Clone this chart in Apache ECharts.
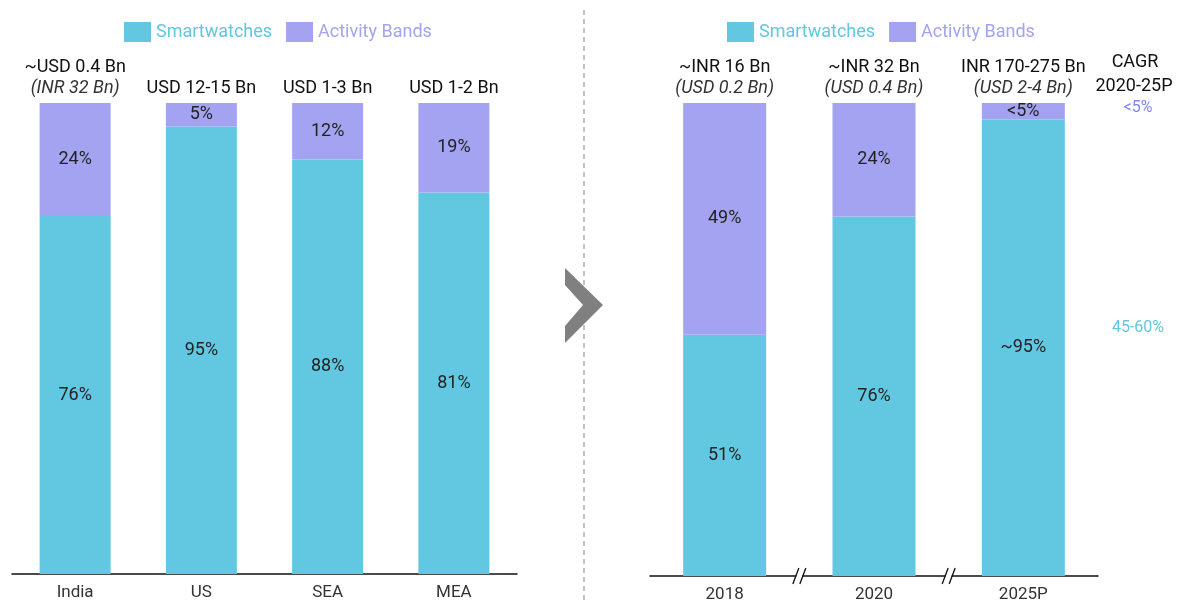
<!DOCTYPE html>
<html>
<head>
<meta charset="utf-8">
<script src="https://cdn.jsdelivr.net/npm/echarts@6/dist/echarts.min.js"></script>
<style>
  html,body{margin:0;padding:0;background:#fff;}
  #c{width:1180px;height:603px;}
</style>
</head>
<body>
<div id="c"></div>
<script>
  // ---------- 数据 ----------
  var regions      = ["India", "US", "SEA", "MEA"];
  var regionWatch  = [76, 95, 88, 81];
  var regionBands  = [24, 5, 12, 19];
  var regionMain   = ["~USD 0.4 Bn", "USD 12-15 Bn", "USD 1-3 Bn", "USD 1-2 Bn"];
  var regionSub    = ["INR 32 Bn", "", "", ""];

  var years        = ["2018", "2020", "2025P"];
  var yearWatch    = [51, 76, 96.5];
  var yearBands    = [49, 24, 3.5];
  var yearWatchTxt = ["51%", "76%", "~95%"];
  var yearBandsTxt = ["49%", "24%", "<5%"];
  var yearMain     = ["~INR 16 Bn", "~INR 32 Bn", "INR 170-275 Bn"];
  var yearSub      = ["USD 0.2 Bn", "USD 0.4 Bn", "USD 2-4 Bn"];

  var cagrTitle    = ["CAGR", "2020-25P"];
  var cagrBands    = "<5%";
  var cagrWatch    = "45-60%";

  var CYAN = "#62c7e0", LAV = "#a3a3f2", FONT = "Roboto";

  function topLabel(main, sub){
    return function(p){
      var s = sub[p.dataIndex];
      return s ? "{a|" + main[p.dataIndex] + "}\n{b|(" + s + ")}" : "{a|" + main[p.dataIndex] + "}";
    };
  }
  var topRich = {
    a:{ fontFamily:FONT, fontSize:18, color:"#111", lineHeight:21 },
    b:{ fontFamily:FONT, fontSize:18, color:"#333", fontStyle:"italic", lineHeight:21 }
  };
  var inLabel = { show:true, position:"inside", fontFamily:FONT, fontSize:18, color:"#222" };

  function ones(arr){ return arr.map(function(){ return 100; }); }

  var chart = echarts.init(document.getElementById("c"), null, { renderer:"canvas" });
  var legendBase = {
    itemWidth:27, itemHeight:20, itemGap:14, selectedMode:false, icon:"rect", top:17,
    textStyle:{ fontFamily:FONT, fontSize:18 },
    data:[ { name:"Smartwatches", textStyle:{ color:CYAN } }, { name:"Activity Bands", textStyle:{ color:LAV } } ]
  };
  var xBase = {
    type:"category",
    axisTick:{ show:false },
    axisLine:{ lineStyle:{ color:"#111", width:1.5 } },
    axisLabel:{ fontFamily:FONT, fontSize:17, color:"#333", margin:10 }
  };
  var yBase = { type:"value", min:0, max:100, show:false };

  chart.setOption({
    animation:false,
    legend:[
      Object.assign({}, legendBase, { left:119 }),
      Object.assign({}, legendBase, { left:722 })
    ],
    grid:[
      { left:12, width:505, top:103, bottom:29 },
      { left:650, width:448, top:103, bottom:24 }
    ],
    xAxis:[
      Object.assign({}, xBase, { gridIndex:0, data:regions }),
      Object.assign({}, xBase, { gridIndex:1, data:years })
    ],
    yAxis:[
      Object.assign({ gridIndex:0 }, yBase),
      Object.assign({ gridIndex:1 }, yBase)
    ],
    series:[
      { name:"Smartwatches", type:"bar", stack:"L", xAxisIndex:0, yAxisIndex:0, barWidth:71,
        itemStyle:{ color:CYAN }, data:regionWatch,
        label:Object.assign({}, inLabel, { formatter:"{c}%" }) },
      { name:"Activity Bands", type:"bar", stack:"L", xAxisIndex:0, yAxisIndex:0, barWidth:71,
        itemStyle:{ color:LAV }, data:regionBands,
        label:Object.assign({}, inLabel, { formatter:"{c}%" }) },
      { name:"totalL", type:"bar", xAxisIndex:0, yAxisIndex:0, barWidth:71, barGap:"-100%", silent:true,
        itemStyle:{ color:"rgba(0,0,0,0)" }, data:ones(regions), z:1,
        label:{ show:true, position:"top", distance:4, formatter:topLabel(regionMain, regionSub), rich:topRich } },

      { name:"Smartwatches", type:"bar", stack:"R", xAxisIndex:1, yAxisIndex:1, barWidth:83,
        itemStyle:{ color:CYAN }, data:yearWatch,
        label:Object.assign({}, inLabel, { formatter:function(p){ return yearWatchTxt[p.dataIndex]; } }) },
      { name:"Activity Bands", type:"bar", stack:"R", xAxisIndex:1, yAxisIndex:1, barWidth:83,
        itemStyle:{ color:LAV }, data:yearBands,
        label:Object.assign({}, inLabel, { formatter:function(p){ return yearBandsTxt[p.dataIndex]; } }) },
      { name:"totalR", type:"bar", xAxisIndex:1, yAxisIndex:1, barWidth:83, barGap:"-100%", silent:true,
        itemStyle:{ color:"rgba(0,0,0,0)" }, data:ones(years), z:1,
        label:{ show:true, position:"top", distance:4, formatter:topLabel(yearMain, yearSub), rich:topRich } }
    ]
  });

  // ---------- 装饰：分隔线、箭头、断轴符号、CAGR 注释 ----------
  var g = [];
  g.push({ type:"line", shape:{ x1:584, y1:10, x2:584, y2:603 },
           style:{ stroke:"#999", lineWidth:1.2, lineDash:[5,4] } });
  g.push({ type:"polygon", shape:{ points:[[565,268],[603,305],[565,343],[565,326],[583,305],[565,285]] },
           style:{ fill:"#808080" } });

  var axisY = chart.convertToPixel({ xAxisIndex:1, yAxisIndex:1 }, [0, 0])[1];
  for (var i = 0; i < years.length - 1; i++){
    var a = chart.convertToPixel({ xAxisIndex:1 }, i), b = chart.convertToPixel({ xAxisIndex:1 }, i + 1);
    var mx = (a + b) / 2;
    g.push({ type:"rect", shape:{ x:mx - 3, y:axisY - 3, width:6, height:6 }, style:{ fill:"#fff" }, z:10 });
    [-3.5, 3.5].forEach(function(dx){
      g.push({ type:"line", shape:{ x1:mx + dx - 3, y1:axisY + 8, x2:mx + dx + 3, y2:axisY - 8 },
               style:{ stroke:"#111", lineWidth:1.3 }, z:11 });
    });
  }

  var tFont = "18px " + FONT;
  g.push({ type:"text", x:1135, y:62, style:{ text:cagrTitle[0], font:tFont, fill:"#111", align:"center", verticalAlign:"middle" } });
  g.push({ type:"text", x:1134, y:86, style:{ text:cagrTitle[1], font:tFont, fill:"#111", align:"center", verticalAlign:"middle" } });
  g.push({ type:"text", x:1138, y:108, style:{ text:cagrBands, font:"16px " + FONT, fill:"#8585f0", align:"center", verticalAlign:"middle" } });
  g.push({ type:"text", x:1138, y:328, style:{ text:cagrWatch, font:"16px " + FONT, fill:CYAN, align:"center", verticalAlign:"middle" } });

  chart.setOption({ graphic:{ elements:g } });
</script>
</body>
</html>
